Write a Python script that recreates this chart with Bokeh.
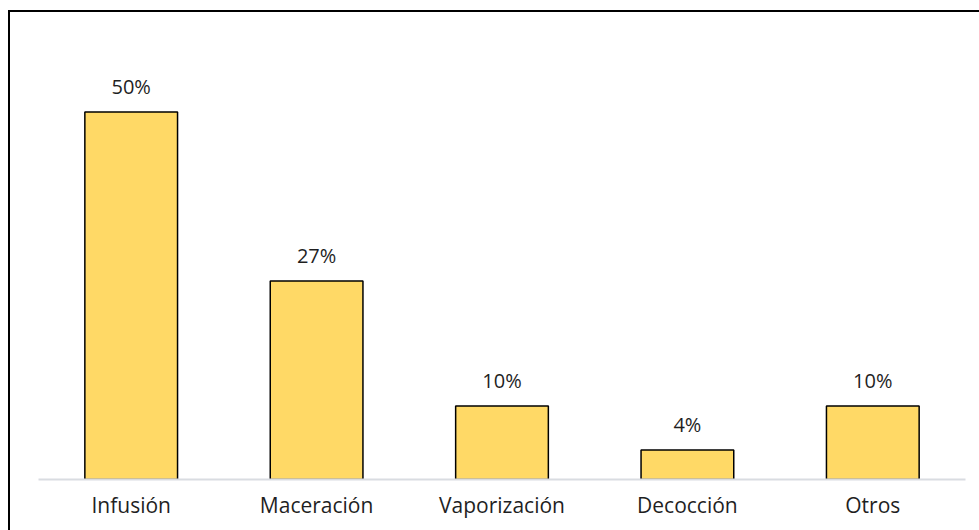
from bokeh.plotting import figure
from bokeh.models import ColumnDataSource, LabelSet, Range1d
from bokeh.core.properties import value
from bokeh.embed import file_html
from bokeh.resources import INLINE

categories = ["Infusión", "Maceración", "Vaporización", "Decocción", "Otros"]
values = [50, 27, 10, 4, 10]
value_labels = ["50%", "27%", "10%", "4%", "10%"]

FONT = "Open Sans"
TEXT_COLOR = "#1F1F1F"

source = ColumnDataSource(dict(cat=categories, val=values, lab=value_labels))

p = figure(
    x_range=categories,
    y_range=Range1d(0, 60),
    width=971,
    height=520,
    output_backend="svg",
    toolbar_location=None,
    y_axis_location=None,
    min_border_left=28,
    min_border_right=16,
    min_border_top=26,
    min_border_bottom=53,
)
p.styles = {
    "border-left": "2px solid #000000",
    "border-top": "2px solid #000000",
    "margin-left": "8px",
    "margin-top": "10px",
}
p.outline_line_color = None
p.xgrid.grid_line_color = None
p.ygrid.grid_line_color = None
p.background_fill_color = "white"
p.border_fill_color = "white"

p.vbar(x="cat", top="val", width=0.5, source=source,
       fill_color="#FFD966", line_color="#000000", line_width=1.5)

labels = LabelSet(x="cat", y="val", text="lab", source=source,
                  text_align="center", text_baseline="alphabetic",
                  y_offset=18, text_font=value(FONT), text_font_size="20px",
                  text_color=TEXT_COLOR)
p.add_layout(labels)

ax = p.xaxis[0]
ax.axis_line_color = "#D9DCE1"
ax.axis_line_width = 2
ax.major_tick_line_color = None
ax.minor_tick_line_color = None
ax.major_label_text_font = FONT
ax.major_label_text_font_size = "21px"
ax.major_label_text_color = TEXT_COLOR
ax.major_label_standoff = 5

open("out.html", "w").write(file_html(p, INLINE))
